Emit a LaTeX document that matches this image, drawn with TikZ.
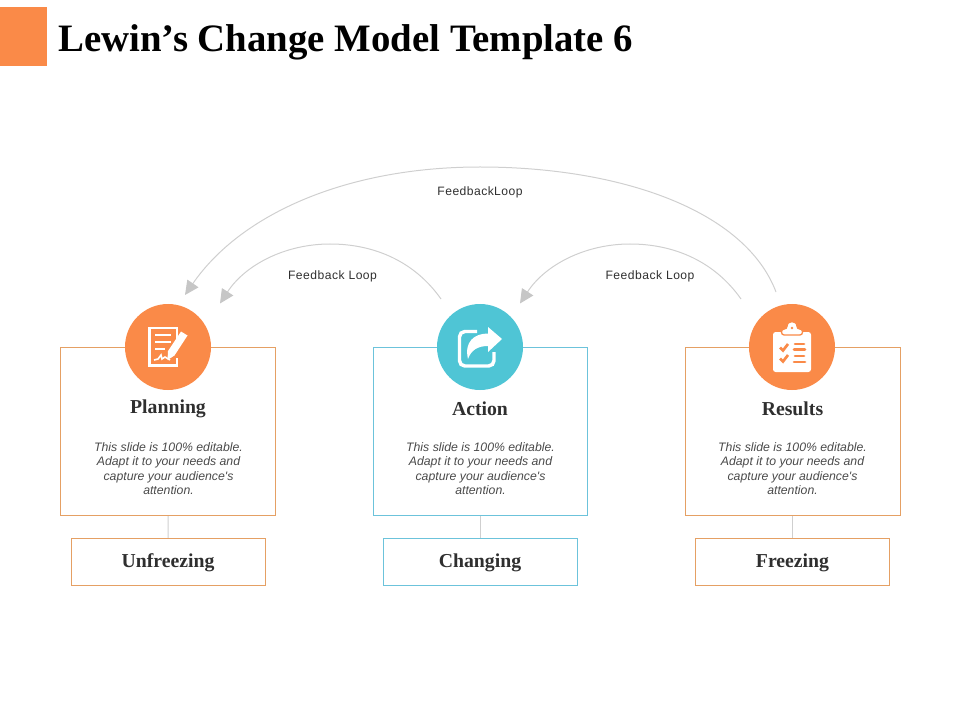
\documentclass[tikz,border=0pt]{standalone}
\usepackage{fontspec}
\usepackage{xcolor}
\usepackage{tikz}
\usetikzlibrary{positioning, calc, arrows.meta}
\setmainfont{Liberation Serif}
\newfontfamily\bodyfont{Liberation Sans}
\newfontfamily\loopfont[LetterSpace=4]{Liberation Sans}
\definecolor{OrangeFill}{HTML}{FA8A48}
\definecolor{TealFill}{HTML}{4FC5D5}
\definecolor{OrangeLine}{HTML}{E5A064}
\definecolor{TealLine}{HTML}{6CC3DB}
\definecolor{GreyLine}{HTML}{CFCFCF}
\definecolor{GreyTip}{HTML}{C6C6C6}
\definecolor{DarkText}{HTML}{2F2F2F}
\definecolor{BodyText}{HTML}{4A4A4A}
\newcommand{\Blurb}{This slide is 100\% editable.\\Adapt it to your needs and\\capture your audience's\\attention.}
\tikzset{
    bigbox/.style={draw=#1, line width=0.75pt, minimum width=161pt, minimum height=126pt, inner sep=0pt},
    stagebox/.style={draw=#1, line width=0.75pt, minimum width=145.5pt, minimum height=35.5pt, inner sep=0pt},
    stagetext/.style={font=\bfseries\fontsize{14.8}{16}\selectfont, text=DarkText},
    badge/.style={circle, fill=#1, minimum size=64.5pt, inner sep=0pt},
    heading/.style={font=\bfseries\fontsize{14.8}{16}\selectfont, text=DarkText},
    blurb/.style={font=\bodyfont\itshape\fontsize{9.2}{10.7}\selectfont, text=BodyText, align=center},
    looptext/.style={font=\loopfont\fontsize{9.1}{10}\selectfont, text=DarkText},
    feedback/.style={draw=GreyLine, line width=0.75pt, -{Triangle[length=10.5pt, width=10pt, fill=GreyTip, color=GreyTip]}},
    stem/.style={draw=GreyLine, line width=0.75pt}
}
\begin{document}
\begin{tikzpicture}[>=latex, x=0.75pt, y=-0.75pt]

    \useasboundingbox (0,0) rectangle (960,720);
    \fill[OrangeFill] (0,7) rectangle (47,66);
    \draw(58,42.5) node[anchor=west, inner sep=0pt, font=\bfseries\fontsize{29.1}{32}\selectfont, text=black] (title) {Lewin's Change Model Template 6};

    \draw(168,431.5) node[bigbox=OrangeLine] (planbox) {};
    \draw(480.5,431.5) node[bigbox=TealLine] (actionbox) {};
    \draw(793,431.5) node[bigbox=OrangeLine] (resultbox) {};

    \draw(168.2,562) node[stagebox=OrangeLine] (unfreeze) {};
    \draw(480.5,562) node[stagebox=TealLine] (change) {};
    \draw(792.5,562) node[stagebox=OrangeLine] (freeze) {};
    \draw(168,563) node[stagetext] (unfreezetext) {Unfreezing};
    \draw(480,563) node[stagetext] (changetext) {Changing};
    \draw(792.5,563) node[stagetext] (freezetext) {Freezing};

    \draw[stem] (planbox) -- (unfreeze);
    \draw[stem] (actionbox) -- (change);
    \draw[stem] (resultbox.south -| freeze) -- (freeze);

    \draw(168,347) node[badge=OrangeFill] (planicon) {};
    \draw(480,347) node[badge=TealFill] (actionicon) {};
    \draw(792,347) node[badge=OrangeFill] (resulticon) {};

    \draw(168,408.5) node[heading] (planhead) {Planning};
    \draw(480,408.5) node[heading] (actionhead) {Action};
    \draw(792.5,408.5) node[heading] (resulthead) {Results};

    \draw(168.5,468.5) node[blurb] (plantext) {\Blurb};
    \draw(480.5,468.5) node[blurb] (actiontext) {\Blurb};
    \draw(792.5,468.5) node[blurb] (resulttext) {\Blurb};

    \coordinate (bigstart) at (776,292);
    \coordinate (bigend) at (185,295);
    \coordinate (leftstart) at (441,299);
    \coordinate (leftend) at (220,303.5);
    \coordinate (rightstart) at (741,299);
    \coordinate (rightend) at (520,303.5);

    \draw[feedback] (bigstart) .. controls (745,210) and (620,167) .. (480,167) .. controls (345,167) and (240,215) .. (bigend);
    \draw[feedback] (leftstart) .. controls (415,262) and (375,244) .. (330,244) .. controls (285,244) and (245,265) .. (leftend);
    \draw[feedback] (rightstart) .. controls (715,262) and (675,244) .. (630,244) .. controls (585,244) and (545,265) .. (rightend);

    \draw(480,192.5) node[looptext] (toploop) {\spaceskip=0.1pt Feedback Loop};
    \draw(332.5,276.5) node[looptext] (leftloop) {Feedback Loop};
    \draw(650,276.5) node[looptext] (rightloop) {Feedback Loop};

    % document and pencil
    \draw[white, line width=2pt, line join=miter] (177,345) -- (177,328) -- (149.5,328) -- (149.5,365.5) -- (177,365.5) -- (177,358);
    \draw[white, line width=2.2pt] (155,335) -- (171,335) (155,342) -- (171,342) (155,349) -- (165,349);
    \draw[white, line width=1.2pt] (154,360) -- (158,359) -- (161,355) -- (162,359) -- (165,357) -- (170,360);
    \fill[white] (181,331.5) -- (187.5,335.5) -- (174.5,355.5) -- (167.5,360) -- (168,351);

    % share arrow
    \draw[white, line width=2.6pt, rounded corners=4pt] (477,331.5) -- (459.5,331.5) -- (459.5,366) -- (494,366) -- (494,352);
    \fill[white] (502,339) -- (488,327) -- (488,333.5) .. controls (474,333.5) and (464,342) .. (468,359) .. controls (471,350) and (478,346) .. (488,346) -- (488,352) -- cycle;

    % clipboard
    \fill[white, rounded corners=2pt] (773,332) rectangle (811,372);
    \draw[OrangeFill, line width=1pt, fill=white, rounded corners=2pt] (781.5,335) -- (781.5,329) -- (787,329) .. controls (787,320) and (797,320) .. (797,329) -- (802.5,329) -- (802.5,335) -- cycle;
    \fill[OrangeFill] (792,328) circle (1.3);
    \draw[OrangeFill, line width=2pt] (780,347.5) -- (783,350.5) -- (788,344) (780,358.5) -- (783,361.5) -- (788,355);
    \draw[OrangeFill, line width=2pt, line cap=round] (795,344) -- (804,344) (794,349.5) -- (805,349.5) (795,356) -- (804,356) (794,362) -- (805,362);

\end{tikzpicture}
\end{document}
